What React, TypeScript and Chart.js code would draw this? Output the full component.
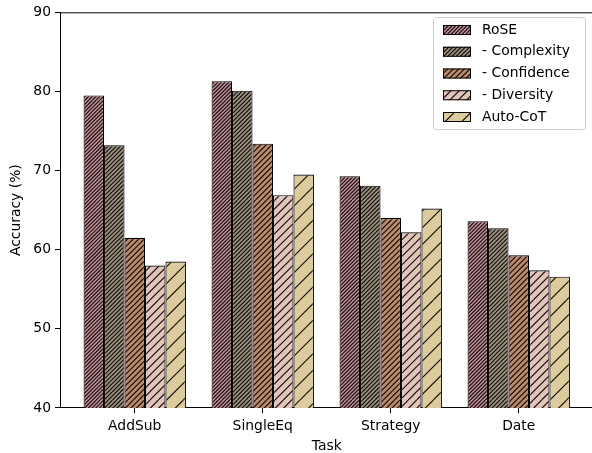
import React, { useEffect, useRef } from "react";
import { Chart, registerables } from "chart.js";

Chart.register(...registerables);

const categories = ["AddSub", "SingleEq", "Strategy", "Date"];
const seriesNames = ["RoSE", "- Complexity", "- Confidence", "- Diversity", "Auto-CoT"];
const roseValues = [79.5, 81.3, 69.3, 63.6];
const complexityValues = [73.2, 80.1, 68.1, 62.7];
const confidenceValues = [61.5, 73.4, 64.0, 59.3];
const diversityValues = [58.0, 66.9, 62.2, 57.4];
const autoCotValues = [58.5, 69.5, 65.2, 56.6];
const yTickValues = [40, 50, 60, 70, 80, 90];

const seriesColors = ["#c29099", "#9a917f", "#bb8a6b", "#e2c4bb", "#dccb9c"];
const hatchCounts = [4.5, 4, 3, 2, 1];

const FONT = "'DejaVu Sans', sans-serif";
const FS = 13.9;

function makeHatch(color: string, count: number): CanvasPattern {
  const size = 100;
  const c = document.createElement("canvas");
  c.width = size;
  c.height = size;
  const g = c.getContext("2d")!;
  g.fillStyle = color;
  g.fillRect(0, 0, size, size);
  g.strokeStyle = "#140c0c";
  g.lineWidth = 1.1;
  const n = Math.round(count * 6);
  const step = size / n;
  g.beginPath();
  for (let k = -n - 1; k <= n + 1; k++) {
    const x0 = k * step;
    g.moveTo(x0, size);
    g.lineTo(x0 + size, 0);
  }
  g.stroke();
  return g.createPattern(c, "repeat")!;
}

export default function App() {
  const ref = useRef<HTMLCanvasElement>(null);

  useEffect(() => {
    if (!ref.current) return;
    const seriesValues = [roseValues, complexityValues, confidenceValues, diversityValues, autoCotValues];
    const patterns = seriesColors.map((c, i) => makeHatch(c, hatchCounts[i]));

    const framePlugin = {
      id: "frameLegend",
      afterDraw(chart: any) {
        const { ctx, chartArea } = chart;
        const { left, top, right, bottom } = chartArea;
        ctx.save();
        ctx.strokeStyle = "#000";
        ctx.lineWidth = 1;
        ctx.beginPath();
        ctx.moveTo(left, top + 0.5);
        ctx.lineTo(right, top + 0.5);
        ctx.lineTo(right, bottom);
        ctx.stroke();

        // legend
        const bx = 433.5, by = 17.5, bw = 152, bh = 112, r = 3;
        ctx.beginPath();
        ctx.moveTo(bx + r, by);
        ctx.lineTo(bx + bw - r, by);
        ctx.quadraticCurveTo(bx + bw, by, bx + bw, by + r);
        ctx.lineTo(bx + bw, by + bh - r);
        ctx.quadraticCurveTo(bx + bw, by + bh, bx + bw - r, by + bh);
        ctx.lineTo(bx + r, by + bh);
        ctx.quadraticCurveTo(bx, by + bh, bx, by + bh - r);
        ctx.lineTo(bx, by + r);
        ctx.quadraticCurveTo(bx, by, bx + r, by);
        ctx.closePath();
        ctx.fillStyle = "rgba(255,255,255,0.8)";
        ctx.fill();
        ctx.strokeStyle = "#cccccc";
        ctx.lineWidth = 1;
        ctx.stroke();

        ctx.font = `${FS}px ${FONT}`;
        ctx.textBaseline = "middle";
        ctx.textAlign = "left";
        chart.data.datasets.forEach((ds: any, i: number) => {
          const cy = 30 + i * 21.75;
          ctx.fillStyle = ds.backgroundColor;
          ctx.fillRect(443, cy - 5, 28, 10);
          ctx.strokeStyle = "#000";
          ctx.lineWidth = 1;
          ctx.strokeRect(443.5, cy - 4.5, 27, 9);
          ctx.fillStyle = "#000";
          ctx.fillText(ds.label, 482, cy);
        });
        ctx.restore();
      },
    };

    const chart = new Chart(ref.current, {
      type: "bar",
      data: {
        datasets: seriesValues.map((vals, i) => ({
          label: seriesNames[i],
          data: vals.map((v, j) => ({ x: j, y: v })),
          backgroundColor: patterns[i] as any,
          borderColor: "#000",
          borderWidth: 1.1,
          borderSkipped: false,
          categoryPercentage: 0.8,
          barPercentage: 1.0,
        })),
      },
      options: {
        animation: false,
        responsive: false,
        devicePixelRatio: 1,
        layout: { padding: { left: 0, top: 10, right: 6.5, bottom: 0 } },
        plugins: { legend: { display: false }, tooltip: { enabled: false } },
        scales: {
          x: {
            type: "linear",
            offset: false,
            min: -0.584,
            max: 3.584,
            afterBuildTicks: (s: any) => {
              s.ticks = categories.map((_, i) => ({ value: i }));
            },
            afterFit: (s: any) => {
              s.height = 45;
            },
            ticks: {
              callback: (v: any) => categories[v] ?? "",
              color: "#000",
              font: { family: FONT, size: FS },
              padding: 5,
              maxRotation: 0,
              autoSkip: false,
            },
            grid: {
              offset: false,
              drawOnChartArea: false,
              drawTicks: true,
              tickLength: 5,
              color: "#000",
              lineWidth: 1,
            },
            border: { display: true, color: "#000", width: 1 },
            title: {
              display: true,
              text: "Task",
              color: "#000",
              font: { family: FONT, size: FS },
              padding: { top: 0, bottom: -2 },
            },
          },
          y: {
            type: "linear",
            min: 40,
            max: 90,
            afterBuildTicks: (s: any) => {
              s.ticks = yTickValues.map((v) => ({ value: v }));
            },
            afterFit: (s: any) => {
              s.width = 60;
            },
            ticks: {
              color: "#000",
              font: { family: FONT, size: FS },
              padding: 4,
            },
            grid: { drawOnChartArea: false, drawTicks: true, tickLength: 5, color: "#000", lineWidth: 1 },
            border: { display: true, color: "#000", width: 1 },
            title: {
              display: true,
              text: "Accuracy (%)",
              color: "#000",
              font: { family: FONT, size: FS },
              padding: { top: 8, bottom: 0 },
            },
          },
        },
      },
      plugins: [framePlugin],
    } as any);

    return () => chart.destroy();
  }, []);

  return (
    <div
      style={{
        position: "fixed",
        left: 0,
        top: 0,
        width: 592,
        height: 453,
        overflow: "hidden",
        background: "#fff",
      }}
    >
      <canvas ref={ref} width={600} height={453} style={{ display: "block" }} />
    </div>
  );
}
